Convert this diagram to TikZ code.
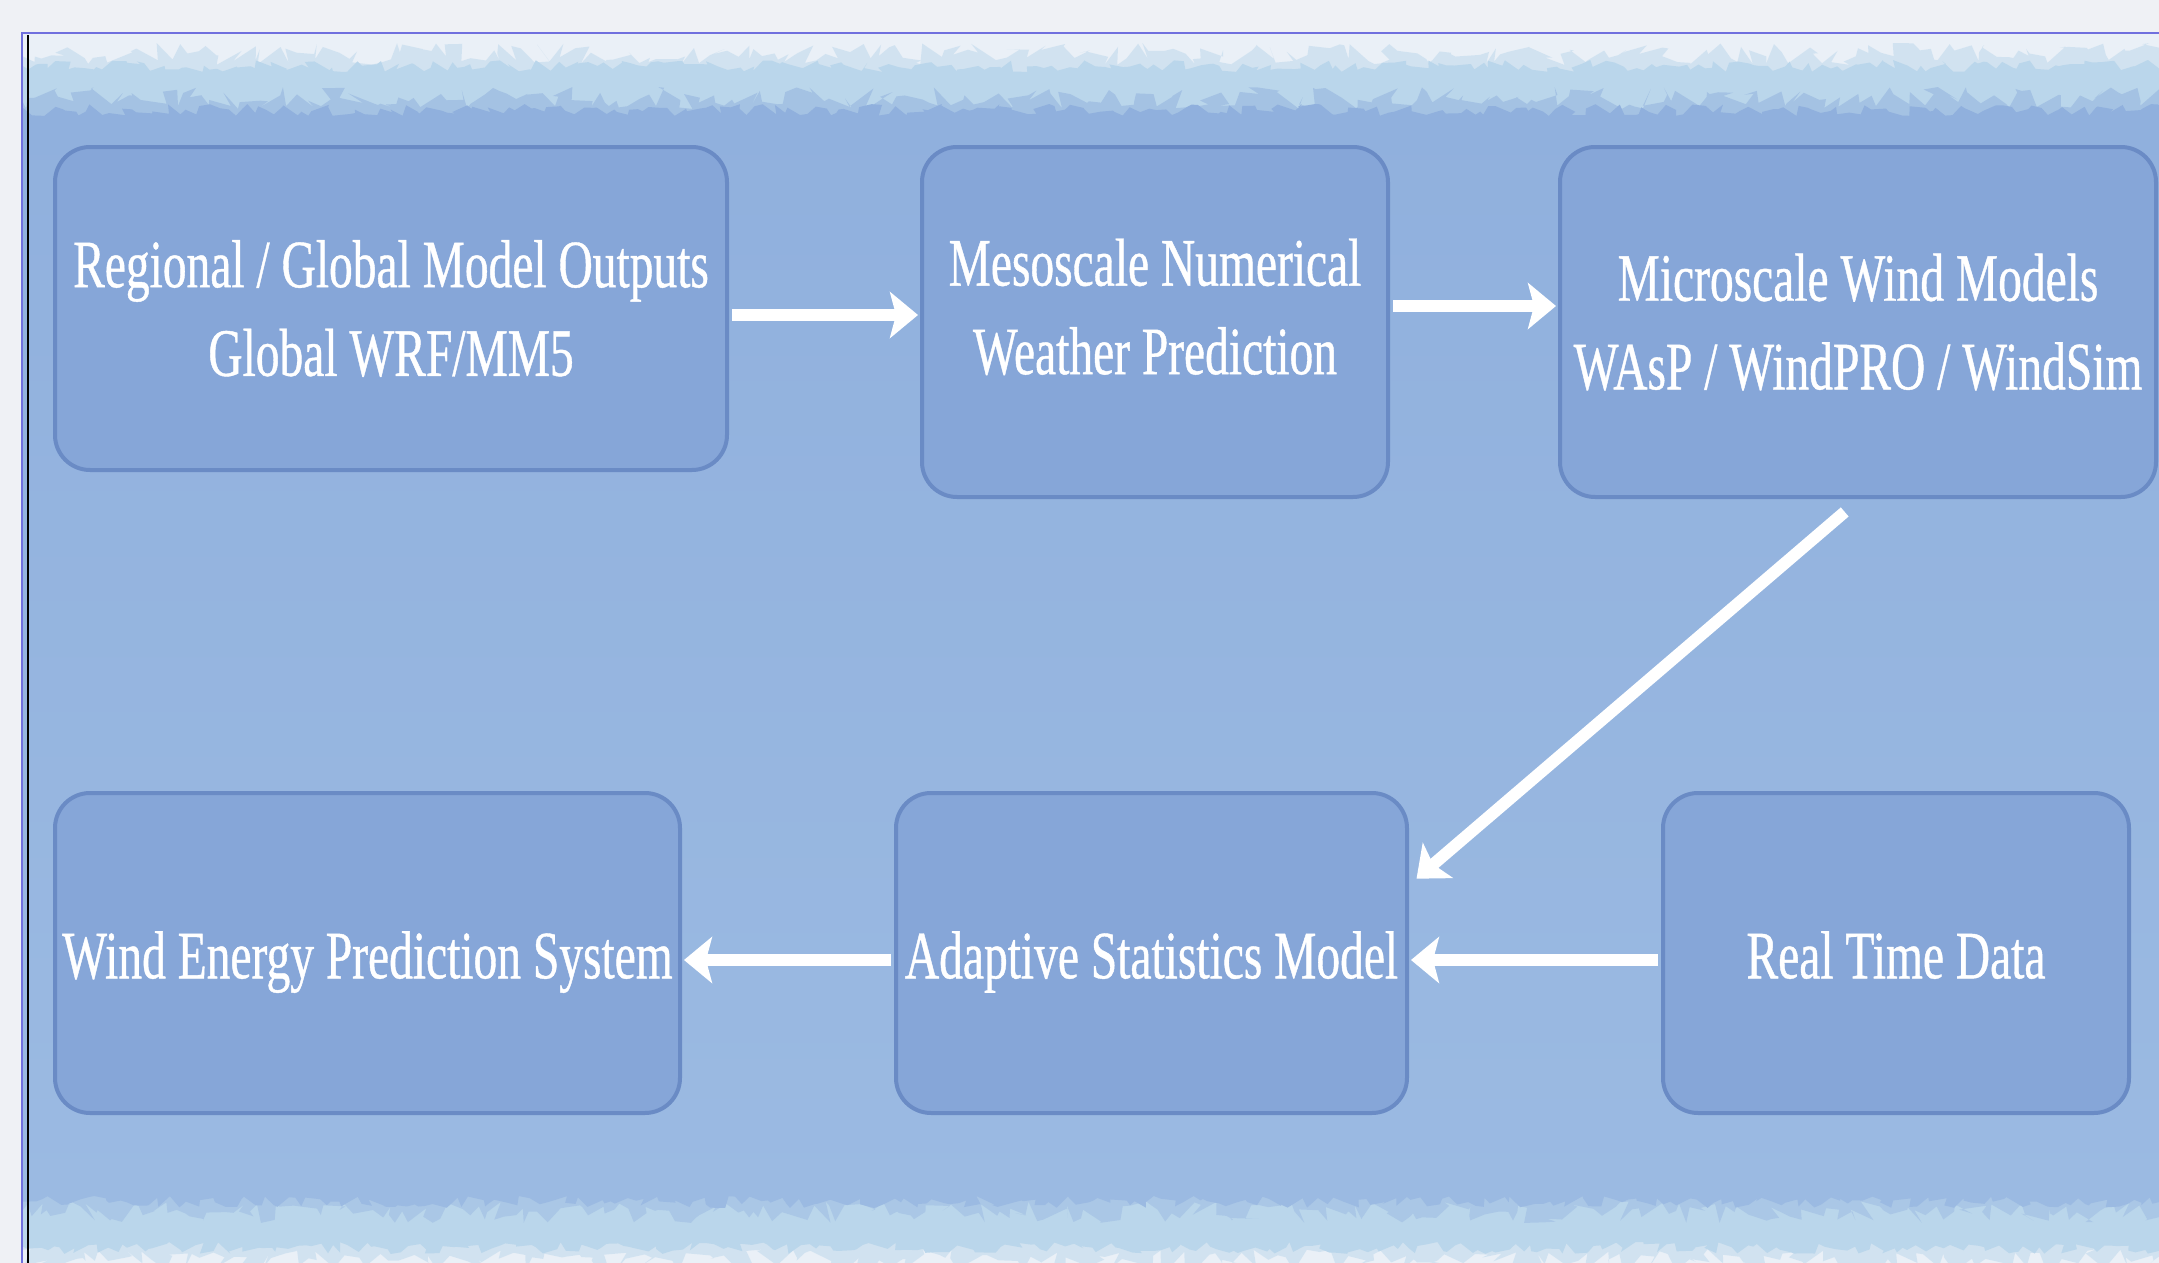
\documentclass[tikz,border=0pt]{standalone}
\usepackage{fontspec}
\setmainfont{Liberation Serif}[FakeStretch=0.7,FakeBold=0.6]
\usepackage{tikz}
\usetikzlibrary{arrows.meta,decorations.pathmorphing,positioning}

\definecolor{pagegray}{HTML}{EFF1F5}
\definecolor{framebl}{HTML}{7070DE}
\definecolor{paperhi}{HTML}{90B0DD}
\definecolor{paperlo}{HTML}{9BBAE2}
\definecolor{wash}{HTML}{BAD6EB}
\definecolor{mist}{HTML}{EAF0F7}
\definecolor{boxfill}{HTML}{86A6D8}
\definecolor{boxline}{HTML}{6A8BC5}

\tikzset{
  stage/.style={draw=boxline, line width=0.4mm, fill=boxfill, rounded corners=3.5mm,
    text=white, align=center, inner sep=0pt, font=\fontsize{19.3pt}{25.2pt}\selectfont},
  oneline/.style={text height=18.6pt, text depth=4.2pt},
  flow/.style={draw=white, line width=1.2mm, -{Stealth[length=2.8mm,width=4.6mm,inset=0.6mm]},
    shorten <=0.3mm, shorten >=0.2mm},
  brush/.style={decorate, decoration={random steps, segment length=0.7mm, amplitude=#1mm}},
  brush/.default=0.6
}

\begin{document}
\begin{tikzpicture}[x=0.1mm,y=-0.1mm]
  \pgfmathsetseed{7}
  \useasboundingbox (0,0) rectangle (2159,1263);

  %Page and frame
  \fill[pagegray] (0,0) rectangle (2159,1263);
  \fill[mist] (23,34) rectangle (2159,1263);
  \begin{scope}
    \clip (23,34) rectangle (2159,1263);
    \fill[wash, opacity=0.5, brush=1.1] (-40,54) rectangle (2200,1260); %Wash fringe
    \fill[wash, brush] (-40,66) rectangle (2200,1248);                  %Wash band
    \shade[top color=paperhi, bottom color=paperlo, opacity=0.5, brush=1.1] (-40,98) rectangle (2200,1212); %Paper fringe
    \shade[top color=paperhi, bottom color=paperlo, brush] (-40,110) rectangle (2200,1202);                %Paper
  \end{scope}
  \draw[framebl, line width=0.2mm] (22,1263) -- (22,33) -- (2159,33); %Frame
  \draw[black, line width=0.25mm] (28,35) -- (28,1263); %Inner edge

  %Top row
  \node[stage, minimum width=67.2mm, minimum height=32.3mm] (src) at (391,308.5)
    {Regional / Global Model Outputs\\Global WRF/MM5};
  \node[stage, minimum width=46.6mm, minimum height=35mm, text depth=8.9pt] (meso) at (1155,322)
    {Mesoscale Numerical\\Weather Prediction};
  \node[stage, minimum width=59.6mm, minimum height=35mm] (micro) at (1858,322)
    {Microscale Wind Models\\WAsP / WindPRO / WindSim};

  %Bottom row
  \node[stage, oneline, minimum width=62.5mm, minimum height=32mm] (weps) at (367.5,953)
    {Wind Energy Prediction System};
  \node[stage, oneline, minimum width=51.1mm, minimum height=32mm] (asm) at (1151.5,953)
    {Adaptive Statistics Model};
  \node[stage, oneline, minimum width=46.6mm, minimum height=32mm] (rtd) at (1896,953)
    {Real Time Data};

  %Arrows
  \draw[flow] ([yshift=-0.65mm]src.east) -- ([yshift=-0.65mm]src.east -| meso.west);
  \draw[flow] ([yshift=1.6mm]meso.east) -- ([yshift=1.6mm]meso.east -| micro.west);
  \draw[flow] ([xshift=-1.1mm,yshift=-1.1mm]micro.south) -- ([xshift=0.6mm,yshift=7.3mm]asm.east);
  \draw[flow] ([yshift=-0.7mm]rtd.west) -- ([yshift=-0.7mm]asm.east);
  \draw[flow] ([yshift=-0.7mm]asm.west) -- ([yshift=-0.7mm]weps.east);
\end{tikzpicture}
\end{document}
